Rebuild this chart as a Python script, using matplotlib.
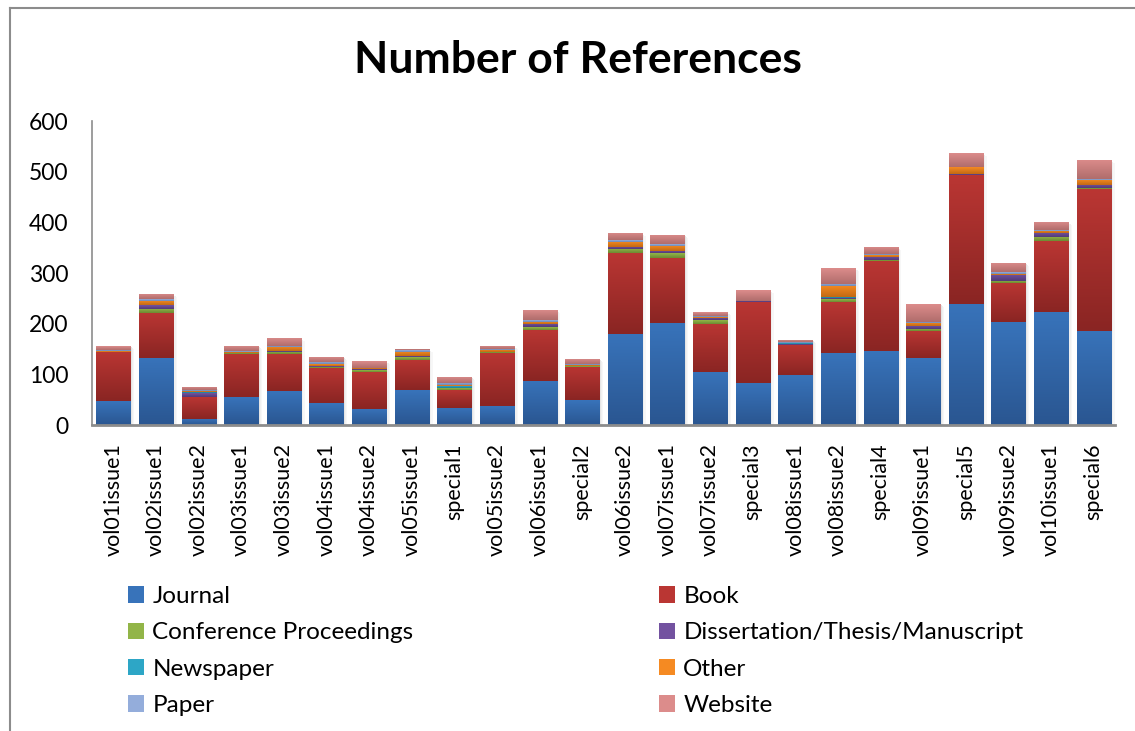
import numpy as np
import matplotlib
matplotlib.use("Agg")
import matplotlib.pyplot as plt
from matplotlib.patches import Rectangle, Patch
from matplotlib.colors import LinearSegmentedColormap

categories = ["vol01issue1", "vol02issue1", "vol02issue2", "vol03issue1", "vol03issue2",
              "vol04issue1", "vol04issue2", "vol05issue1", "special1", "vol05issue2",
              "vol06issue1", "special2", "vol06issue2", "vol07issue1", "vol07issue2",
              "special3", "vol08issue1", "vol08issue2", "special4", "vol09issue1",
              "special5", "vol09issue2", "vol10issue1", "special6"]

journal    = [47, 132, 12, 55, 67, 43, 32, 69, 34, 37, 87, 49, 180, 201, 104, 83, 98, 142, 146, 132, 239, 203, 223, 186]
book       = [98, 89, 43, 85, 73, 70, 73, 60, 36, 105, 101, 66, 159, 129, 96, 160, 60, 101, 178, 54, 254, 77, 140, 280]
conference = [0, 8, 1, 3, 4, 2, 3, 5, 3, 2, 5, 1, 8, 9, 7, 0, 0, 5, 2, 4, 0, 4, 8, 2]
dissertation = [0, 7, 7, 0, 2, 1, 2, 2, 1, 0, 6, 0, 4, 4, 4, 2, 2, 2, 6, 6, 3, 12, 8, 6]
newspaper  = [0, 1, 2, 0, 0, 1, 0, 1, 3, 0, 1, 0, 1, 0, 1, 0, 1, 2, 0, 0, 0, 1, 0, 0]
other      = [1, 8, 2, 2, 8, 3, 2, 8, 1, 4, 4, 2, 10, 11, 1, 0, 0, 23, 3, 6, 13, 2, 4, 10]
paper      = [3, 3, 2, 1, 2, 4, 1, 3, 5, 2, 3, 2, 3, 3, 3, 0, 3, 4, 2, 2, 1, 2, 1, 1]
website    = [7, 11, 6, 10, 16, 10, 13, 2, 12, 6, 20, 10, 14, 18, 7, 21, 4, 31, 14, 35, 27, 19, 17, 38]

series_names = ["Journal", "Book", "Conference Proceedings", "Dissertation/Thesis/Manuscript",
                "Newspaper", "Other", "Paper", "Website"]
series_values = [journal, book, conference, dissertation, newspaper, other, paper, website]
# (top colour, bottom colour) for gradient fill
series_colors = [("#3873BA", "#2A5691"), ("#BA3633", "#8A2523"), ("#92B548", "#6D8A32"),
                 ("#7352A0", "#533A77"), ("#2DA6C6", "#1F7D96"), ("#F58A22", "#C26A14"),
                 ("#94ADDB", "#7089B6"), ("#DC8C8B", "#B06D6C")]

FONT = "Lato"
plt.rcParams["font.family"] = [FONT, "DejaVu Sans"]

fig = plt.figure(figsize=(11.35, 7.31), dpi=100)
ax = fig.add_axes([92 / 1135, 1 - 425 / 731, (1115 - 92) / 1135, (425 - 121) / 731])

x = np.arange(len(categories))
bottom = np.zeros(len(categories))
handles = []
for name, vals, (ctop, cbot) in zip(series_names, series_values, series_colors):
    vals = np.array(vals, dtype=float)
    bars = ax.bar(x, vals, width=0.8, bottom=bottom, color=cbot, edgecolor="none",
                  label=name, zorder=2)
    cmap = LinearSegmentedColormap.from_list(name, [cbot, ctop])
    grad = np.linspace(0, 1, 64).reshape(-1, 1)
    for b in bars:
        h = b.get_height()
        if h <= 0:
            continue
        x0, y0, w = b.get_x(), b.get_y(), b.get_width()
        im = ax.imshow(grad, cmap=cmap, origin="lower", aspect="auto",
                       extent=(x0, x0 + w, y0, y0 + h), zorder=3, interpolation="bilinear")
        im.set_clip_path(b)
    handles.append(Patch(facecolor=ctop, edgecolor="none", label=name))
    bottom += vals

# soft shadow to the right of bars
for i, tot in enumerate(bottom):
    for k, a in enumerate([0.10, 0.06, 0.03]):
        ax.add_patch(Rectangle((x[i] + 0.4 + k * 0.03, 0), 0.03, tot - 2 - k * 2,
                               facecolor="black", alpha=a, edgecolor="none", zorder=1))

ax.set_xlim(-0.5, len(categories) - 0.5)
ax.set_ylim(0, 600)
ax.set_yticks([0, 100, 200, 300, 400, 500, 600])
ax.set_xticks(x)
ax.set_xticklabels(categories, rotation=90)
ax.tick_params(axis="y", length=0, pad=17, labelsize=16.5)
ax.tick_params(axis="x", length=0, pad=13, labelsize=15.5)
for s in ["top", "right"]:
    ax.spines[s].set_visible(False)
ax.spines["left"].set_color("#8c8c8c")
ax.spines["left"].set_linewidth(1.2)
ax.spines["bottom"].set_color("#8c8c8c")
ax.spines["bottom"].set_linewidth(2)
ax.spines["bottom"].set_zorder(4)

fig.text(578 / 1135, 1 - 60 / 731, "Number of References", ha="center", va="center",
         fontsize=32, fontweight="bold")

# outer chart border (top and left visible)
fig.add_artist(plt.Line2D([10 / 1135, 1.0], [1 - 7.5 / 731, 1 - 7.5 / 731],
                          transform=fig.transFigure, color="#8c8c8c", lw=1.5))
fig.add_artist(plt.Line2D([10 / 1135, 10 / 1135], [0, 1 - 7.5 / 731],
                          transform=fig.transFigure, color="#8c8c8c", lw=1.5))

leg_kw = dict(frameon=False, fontsize=17.5, handlelength=0.65, handleheight=0.65,
              handletextpad=0.35, labelspacing=0.63, borderaxespad=0, borderpad=0)
left_h = [handles[0], handles[2], handles[4], handles[6]]
right_h = [handles[1], handles[3], handles[5], handles[7]]
l1 = fig.legend(handles=left_h, loc="upper left", bbox_to_anchor=(128 / 1135, 1 - 586 / 731), **leg_kw)
l2 = fig.legend(handles=right_h, loc="upper left", bbox_to_anchor=(659 / 1135, 1 - 586 / 731), **leg_kw)

fig.savefig("out.png", dpi=100)
